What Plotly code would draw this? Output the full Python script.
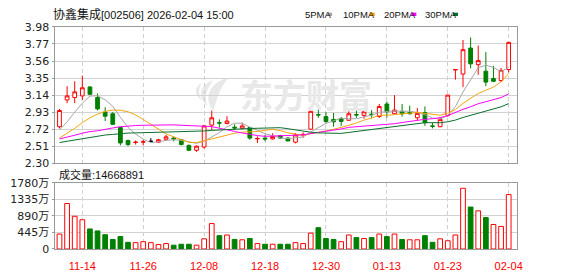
import plotly.graph_objects as go
import pandas as pd

# ---------------- data ----------------
dates = ["11-11", "11-12", "11-13", "11-14", "11-17", "11-18", "11-19", "11-20", "11-21",
         "11-24", "11-25", "11-26", "11-27", "11-28", "12-01", "12-02", "12-03", "12-04",
         "12-05", "12-08", "12-09", "12-10", "12-11", "12-12", "12-15", "12-16", "12-17",
         "12-18", "12-19", "12-22", "12-23", "12-24", "12-25", "12-26", "12-29", "12-30",
         "12-31", "01-05", "01-06", "01-07", "01-08", "01-09", "01-12", "01-13", "01-14",
         "01-15", "01-16", "01-19", "01-20", "01-21", "01-22", "01-23", "01-26", "01-27",
         "01-28", "01-29", "01-30", "02-02", "02-03", "02-04"]

opens = [2.75, 3.08, 3.11, 3.13, 3.24, 3.11, 2.93, 2.91, 2.74, 2.58,
         2.555, 2.56, 2.57, 2.56, 2.595, 2.61, 2.59, 2.52, 2.46, 2.50,
         2.77, 2.80, 2.79, 2.745, 2.73, 2.74, 2.60, 2.61, 2.60, 2.64,
         2.61, 2.56, 2.65, 2.72, 2.90, 2.875, 2.84, 2.85, 2.83, 2.90,
         2.89, 2.905, 2.875, 3.03, 2.91, 2.94, 2.925, 2.86, 2.925, 2.76,
         2.75, 2.89, 3.45, 3.40, 3.72, 3.515, 3.435, 3.345, 3.32, 3.455]
highs = [2.97, 3.25, 3.31, 3.38, 3.25, 3.16, 2.99, 2.93, 2.75, 2.59,
         2.58, 2.59, 2.61, 2.60, 2.65, 2.63, 2.60, 2.53, 2.52, 2.77,
         2.95, 2.84, 2.88, 2.78, 2.80, 2.75, 2.63, 2.65, 2.67, 2.65,
         2.62, 2.67, 2.68, 2.945, 2.965, 2.93, 2.92, 2.87, 2.94, 2.955,
         2.955, 2.955, 3.03, 3.06, 3.14, 3.03, 3.01, 2.98, 3.00, 2.80,
         2.87, 3.145, 3.46, 3.82, 3.85, 3.75, 3.67, 3.50, 3.475, 3.795]
lows = [2.73, 3.04, 3.04, 3.08, 3.14, 2.95, 2.82, 2.77, 2.52, 2.51,
        2.53, 2.52, 2.57, 2.55, 2.59, 2.57, 2.52, 2.45, 2.44, 2.48,
        2.71, 2.74, 2.78, 2.71, 2.72, 2.59, 2.55, 2.57, 2.59, 2.60,
        2.57, 2.545, 2.615, 2.715, 2.86, 2.79, 2.75, 2.76, 2.82, 2.86,
        2.85, 2.86, 2.86, 2.86, 2.90, 2.875, 2.90, 2.83, 2.76, 2.73,
        2.745, 2.87, 3.33, 3.24, 3.47, 3.39, 3.25, 3.30, 3.30, 3.42]
closes = [2.95, 3.13, 3.18, 3.23, 3.15, 2.97, 2.88, 2.78, 2.55, 2.53,
          2.56, 2.565, 2.57, 2.59, 2.625, 2.60, 2.53, 2.46, 2.51, 2.76,
          2.86, 2.795, 2.82, 2.735, 2.76, 2.61, 2.605, 2.60, 2.63, 2.61,
          2.575, 2.65, 2.655, 2.94, 2.895, 2.815, 2.81, 2.815, 2.91, 2.895,
          2.935, 2.90, 3.00, 2.935, 2.955, 2.91, 2.91, 2.915, 2.80, 2.755,
          2.84, 3.14, 3.455, 3.70, 3.525, 3.565, 3.30, 3.31, 3.445, 3.79]

# volume in 万 (10k shares)
volumes = [403, 1226, 882, 788, 540, 488, 385, 257, 334, 180,
           171, 197, 171, 120, 146, 103, 128, 128, 103, 274,
           685, 360, 377, 257, 248, 283, 146, 128, 128, 128,
           128, 171, 146, 428, 574, 283, 257, 197, 377, 308,
           283, 308, 403, 334, 403, 257, 248, 248, 360, 180,
           274, 223, 377, 1637, 1131, 1028, 848, 660, 608, 1466.8891]
vol_red = [1, 1, 1, 1, 0, 0, 0, 0, 0, 0,
           1, 1, 1, 1, 1, 0, 0, 0, 1, 1,
           1, 0, 1, 0, 1, 0, 1, 0, 1, 0,
           0, 1, 1, 1, 0, 0, 0, 1, 1, 0,
           1, 0, 1, 0, 1, 0, 1, 1, 0, 0,
           1, 1, 1, 1, 0, 1, 0, 1, 1, 1]

# moving-average values at the start of the window (need history not shown)
ma5_head = [2.71, 2.81, 2.93, 3.04]
ma10_head = [2.61, 2.665, 2.73, 2.80, 2.86, 2.905, 2.94, 2.955, 2.953]
ma20_head = [2.60, 2.62, 2.645, 2.67, 2.69, 2.70, 2.72, 2.735, 2.75, 2.76,
             2.765, 2.768, 2.77, 2.772, 2.773, 2.773, 2.768, 2.761, 2.754]
ma30_head = [2.555, 2.57, 2.585, 2.60, 2.62, 2.632, 2.648, 2.655, 2.668, 2.672,
             2.674, 2.676, 2.677, 2.679, 2.681, 2.683, 2.685, 2.688, 2.692, 2.698,
             2.705, 2.711, 2.716, 2.72, 2.724, 2.728, 2.731, 2.735, 2.739]

tick_dates = ["11-14", "11-26", "12-08", "12-18", "12-30", "01-13", "01-23", "02-04"]
price_tick_labels = ["2.30", "2.51", "2.72", "2.93", "3.14", "3.35", "3.56", "3.77", "3.98"]
vol_tick_vals = [0, 445, 890, 1335, 1780]
vol_tick_labels = ["0", "445万", "890万", "1335万", "1780万"]

title_name = "协鑫集成"
title_rest = "[002506] 2026-02-04 15:00"
vol_label = "成交量:14668891"
ma_names = ["5PMA", "10PMA", "20PMA", "30PMA"]
ma_colors = ["#a6a6a6", "#f3a40c", "#ff00ff", "#0a6e2e"]

RED = "#ff0000"
GREEN = "#008000"

# ---------------- derived ----------------
W, H = 578, 276
X0, X1 = 55, 522
idx = list(range(len(dates)))
s = pd.Series(closes)


def ma(n, head):
    vals = s.rolling(n).mean().tolist()
    vals[:len(head)] = head
    return vals


mas = [ma(5, ma5_head), ma(10, ma10_head), ma(20, ma20_head), ma(30, ma30_head)]


def px(x):
    return x / W


def py(y):
    return 1 - y / H


fig = go.Figure()

normal = [i for i in idx if opens[i] != closes[i]]
doji = [i for i in idx if opens[i] == closes[i]]

fig.add_trace(go.Candlestick(
    x=[i for i in normal], open=[opens[i] for i in normal], high=[highs[i] for i in normal],
    low=[lows[i] for i in normal], close=[closes[i] for i in normal],
    increasing=dict(line=dict(color=RED, width=1), fillcolor="#ffffff"),
    decreasing=dict(line=dict(color=GREEN, width=1), fillcolor=GREEN),
    whiskerwidth=0, xaxis="x", yaxis="y", hoverinfo="skip"))
if doji:
    fig.add_trace(go.Candlestick(
        x=doji, open=[opens[i] for i in doji], high=[highs[i] for i in doji],
        low=[lows[i] for i in doji], close=[closes[i] for i in doji],
        increasing=dict(line=dict(color="#000000", width=1), fillcolor="#000000"),
        decreasing=dict(line=dict(color="#000000", width=1), fillcolor="#000000"),
        whiskerwidth=0, xaxis="x", yaxis="y", hoverinfo="skip"))

for vals, col in zip(mas, ma_colors):
    fig.add_trace(go.Scatter(x=idx, y=vals, mode="lines", line=dict(color=col, width=1),
                             xaxis="x", yaxis="y", hoverinfo="skip"))

fig.add_trace(go.Bar(
    x=idx, y=volumes, width=0.62,
    marker=dict(color=["#ffffff" if r else GREEN for r in vol_red],
                line=dict(color=[RED if r else GREEN for r in vol_red], width=1)),
    xaxis="x", yaxis="y2", hoverinfo="skip"))

tickvals = [dates.index(d) for d in tick_dates]
left_idx = -(60 - X0) / 7.68
right_idx = left_idx + (X1 - X0) / 7.68

axis_common = dict(showline=True, linecolor="#999999", linewidth=1, mirror=True, zeroline=False)

fig.update_layout(
    width=W, height=H, margin=dict(l=0, r=0, t=0, b=0),
    paper_bgcolor="white", plot_bgcolor="rgba(0,0,0,0)", showlegend=False,
    xaxis=dict(domain=[px(X0), px(X1)], range=[left_idx, right_idx], anchor="y2",
               tickvals=tickvals, ticktext=tick_dates, ticks="", ticklabelstandoff=7,
               tickfont=dict(family="Liberation Sans", size=11, color=RED),
               showgrid=True, gridcolor="#cfcfcf", griddash="4px,3px",
               showline=True, linecolor="#999999", mirror="all", zeroline=False,
               rangeslider=dict(visible=False)),
    yaxis=dict(domain=[py(165), py(22)], range=[2.30, 3.98], anchor="x",
               tickvals=[float(t) for t in price_tick_labels], ticktext=price_tick_labels,
               ticks="outside", ticklen=2, tickcolor="#999999",
               tickfont=dict(family="DejaVu Sans", size=11, color="#222222"),
               showgrid=True, gridcolor="#d2d2d2", **axis_common),
    yaxis2=dict(domain=[py(255), py(185.7)], range=[0, 1780], anchor="x",
                tickvals=vol_tick_vals, ticktext=vol_tick_labels,
                ticks="outside", ticklen=2, tickcolor="#999999",
                tickfont=dict(family="DejaVu Sans, Noto Sans CJK SC", size=11, color="#222222"),
                showgrid=True, gridcolor="#d2d2d2", **axis_common),
)

ann = []
ann.append(dict(x=px(51), y=py(8.5), xref="paper", yref="paper", xanchor="left", yanchor="middle",
                showarrow=False,
                text=f'<span style="font-size:12px">{title_name}</span>{title_rest}',
                font=dict(family="Liberation Sans, Noto Sans CJK SC", size=11, color="#111111")))
ann.append(dict(x=px(57), y=py(177), xref="paper", yref="paper", xanchor="left", yanchor="middle",
                showarrow=False, text=vol_label,
                font=dict(family="Liberation Sans, Noto Sans CJK SC", size=11, color="#111111")))
leg_text_x = [306, 344, 385, 427]
leg_box_x = [330, 373, 415, 457]
shapes = []
for name, tx, bx, col in zip(ma_names, leg_text_x, leg_box_x, ma_colors):
    ann.append(dict(x=px(tx), y=py(8.5), xref="paper", yref="paper", xanchor="left", yanchor="middle",
                    showarrow=False, text=name,
                    font=dict(family="Liberation Sans", size=9.5, color="#111111")))
    shapes.append(dict(type="rect", xref="paper", yref="paper", x0=px(bx), x1=px(bx + 5),
                       y0=py(10.5), y1=py(7), fillcolor=col, line=dict(width=0)))

# watermark
ann.append(dict(x=px(309), y=py(92), xref="paper", yref="paper", xanchor="center", yanchor="middle",
                showarrow=False, text="<b>东方财富</b>",
                font=dict(family="Noto Sans CJK SC", size=33, color="#e8e8e8")))


def pth(points):
    out = []
    for cmd, pts in points:
        coords = " ".join(f"{px(a):.5f},{py(b):.5f}" for a, b in pts)
        out.append(f"{cmd}{coords}")
    return " ".join(out) + " Z"


blades = [
    [("M", [(215, 110)]), ("C", [(205, 96), (211, 80), (231, 75)]), ("C", [(221, 86), (219, 98), (215, 110)])],
    [("M", [(209, 105)]), ("C", [(199, 96), (201, 83), (215, 78)]), ("C", [(208, 88), (206, 96), (209, 105)])],
    [("M", [(204, 99)]), ("C", [(195, 93), (196, 85), (203, 81)]), ("C", [(200, 88), (200, 94), (204, 99)])],
]
for b in blades:
    shapes.append(dict(type="path", xref="paper", yref="paper", path=pth(b),
                       fillcolor="#e8e8e8", line=dict(width=0), layer="below"))

fig.update_layout(annotations=ann, shapes=shapes)

fig.write_html("out.html")
